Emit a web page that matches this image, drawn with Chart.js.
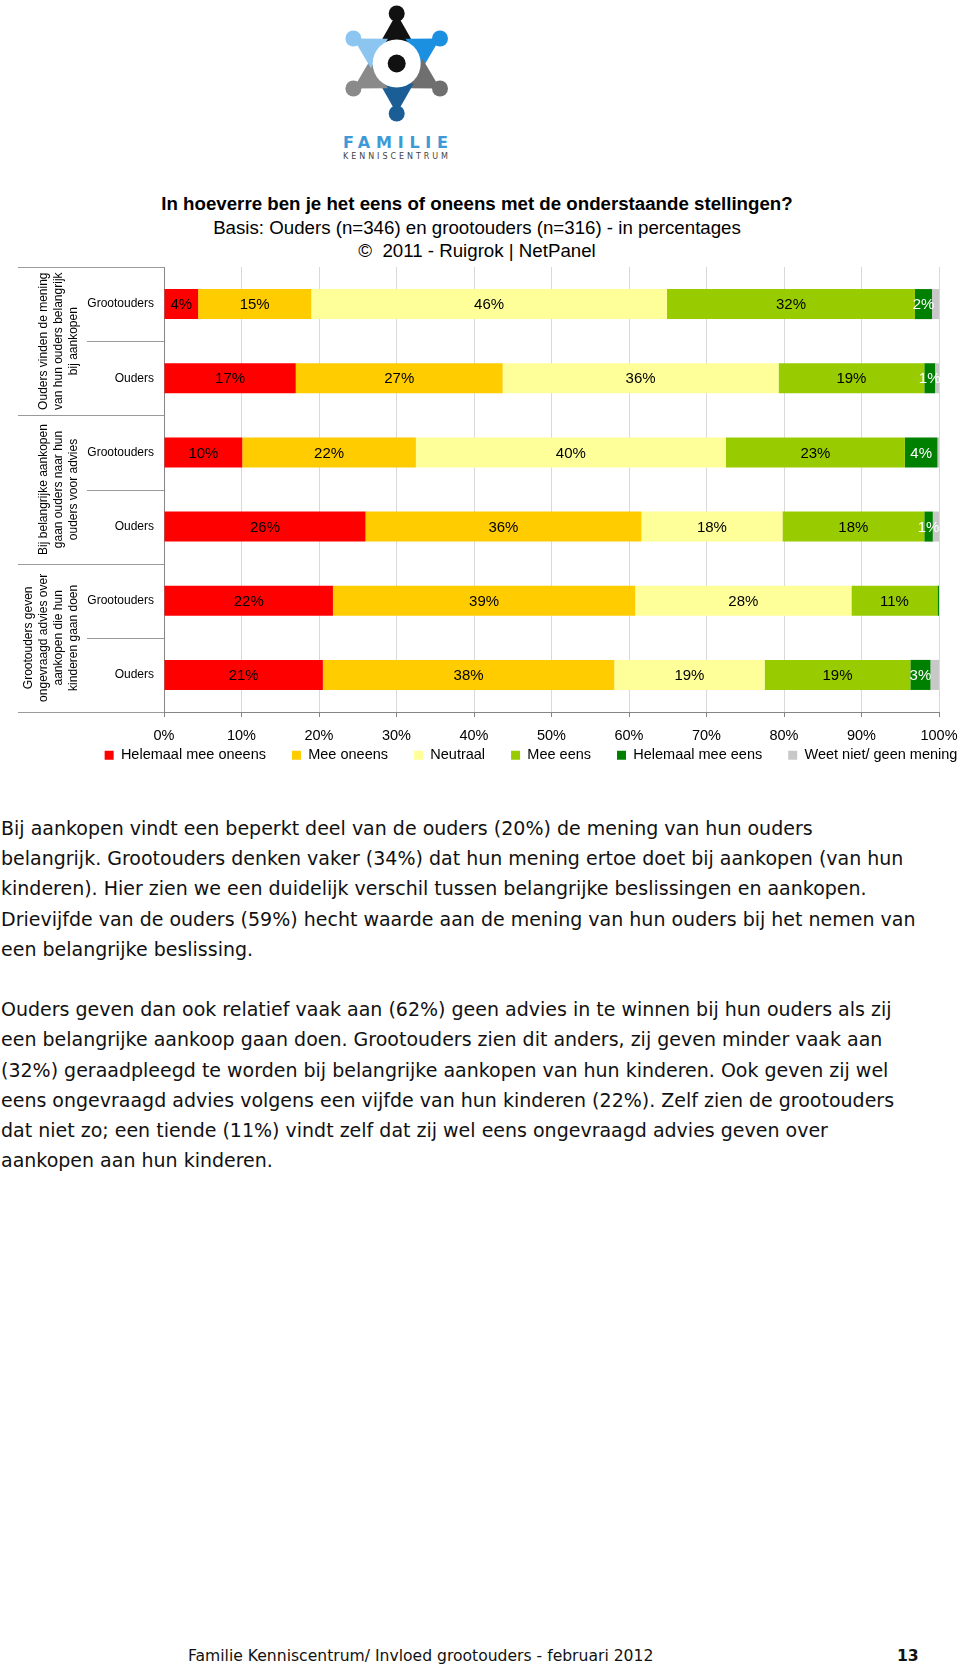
<!DOCTYPE html>
<html>
<head>
    <title>Familie Kenniscentrum - Invloed grootouders</title>
    <script src="https://cdn.jsdelivr.net/npm/chart.js"></script>
    <style>
        html, body {
            margin: 0;
            padding: 0;
            background: #fff;
            overflow: hidden;
        }
        body {
            width: 960px;
            height: 1668px;
            position: relative;
            font-family: "Liberation Sans", Arial, sans-serif;
            color: #000;
        }
        .kop {
            position: absolute;
            left: 0;
            width: 954px;
            text-align: center;
            line-height: 22px;
            font-size: 18.7px;
        }
        #chartBox {
            position: absolute;
            left: 0;
            top: 258px;
        }
        .tekst {
            position: absolute;
            left: 1px;
            top: 813px;
            font-family: "DejaVu Sans", sans-serif;
            font-size: 19px;
            line-height: 30.2px;
            white-space: nowrap;
            color: #111;
        }
        .voet {
            position: absolute;
            top: 1646px;
            font-family: "DejaVu Sans", sans-serif;
            font-size: 15.6px;
            line-height: 20px;
            white-space: nowrap;
            color: #111;
        }
    </style>
</head>
<body>
    <!-- logo -->
    <svg id="logo" width="960" height="165" style="position:absolute;left:0;top:0">
        <polygon points="396.7,13.5 379.7,43.5 413.7,43.5" fill="#111"/>
        <polygon points="440,38.5 422.5,68.2 405.5,38.8" fill="#1b8fe0"/>
        <polygon points="440,88.5 405.5,88.2 422.5,58.8" fill="#6f6f6f"/>
        <polygon points="396.7,113.5 379.7,83.5 413.7,83.5" fill="#1b5e96"/>
        <polygon points="353.4,88.5 370.9,58.8 387.9,88.2" fill="#8a8a8a"/>
        <polygon points="353.4,38.5 387.9,38.8 370.9,68.2" fill="#8cc5f0"/>
        <circle cx="396.7" cy="63.5" r="24" fill="#fff"/>
        <circle cx="396.7" cy="63.5" r="9" fill="#111"/>
        <circle cx="396.7" cy="13.5" r="8" fill="#111"/>
        <circle cx="440" cy="38.5" r="8" fill="#1b8fe0"/>
        <circle cx="440" cy="88.5" r="8" fill="#6f6f6f"/>
        <circle cx="396.7" cy="113.5" r="8" fill="#1b5e96"/>
        <circle cx="353.4" cy="88.5" r="8" fill="#8a8a8a"/>
        <circle cx="353.4" cy="38.5" r="8" fill="#8cc5f0"/>
        <text x="343" y="148" font-family="DejaVu Sans, sans-serif" font-weight="bold" font-size="16" fill="#3d9ad6" textLength="105" lengthAdjust="spacing">FAMILIE</text>
        <text x="343" y="159" font-family="DejaVu Sans, sans-serif" font-size="8" fill="#444" textLength="105" lengthAdjust="spacing">KENNISCENTRUM</text>
    </svg>

    <div class="kop" style="top:193px;font-weight:bold">In hoeverre ben je het eens of oneens met de onderstaande stellingen?</div>
    <div class="kop" style="top:217px">Basis: Ouders (n=346) en grootouders (n=316) - in percentages</div>
    <div class="kop" style="top:240px">&copy;&nbsp; 2011 - Ruigrok | NetPanel</div>

    <div id="chartBox"><canvas id="stellingenChart" width="1000" height="536"></canvas></div>

    <div class="tekst">Bij aankopen vindt een beperkt deel van de ouders (20%) de mening van hun ouders<br>belangrijk. Grootouders denken vaker (34%) dat hun mening ertoe doet bij aankopen (van hun<br>kinderen). Hier zien we een duidelijk verschil tussen belangrijke beslissingen en aankopen.<br>Drievijfde van de ouders (59%) hecht waarde aan de mening van hun ouders bij het nemen van<br>een belangrijke beslissing.<br><br>Ouders geven dan ook relatief vaak aan (62%) geen advies in te winnen bij hun ouders als zij<br>een belangrijke aankoop gaan doen. Grootouders zien dit anders, zij geven minder vaak aan<br>(32%) geraadpleegd te worden bij belangrijke aankopen van hun kinderen. Ook geven zij wel<br>eens ongevraagd advies volgens een vijfde van hun kinderen (22%). Zelf zien de grootouders<br>dat niet zo; een tiende (11%) vindt zelf dat zij wel eens ongevraagd advies geven over<br>aankopen aan hun kinderen.</div>

    <div class="voet" style="left:188px">Familie Kenniscentrum/ Invloed grootouders - februari 2012</div>
    <div class="voet" style="left:897px;font-weight:bold">13</div>

    <script type="text/javascript">
        // rijen (van boven naar onder)
        var rijLabels = ['Grootouders', 'Ouders', 'Grootouders', 'Ouders', 'Grootouders', 'Ouders'];
        var groepLabels = [
            ['Ouders vinden de mening', 'van hun ouders belangrijk', 'bij aankopen'],
            ['Bij belangrijke aankopen', 'gaan ouders naar hun', 'ouders voor advies'],
            ['Grootouders geven', 'ongevraagd advies over', 'aankopen die hun', 'kinderen gaan doen']
        ];

        var reeksNamen = ['Helemaal mee oneens', 'Mee oneens', 'Neutraal', 'Mee eens', 'Helemaal mee eens', 'Weet niet/ geen mening'];
        var reeksKleuren = ['#ff0000', '#ffcc00', '#ffff99', '#99cc00', '#008000', '#c8c8c8'];

        // percentages per rij
        var helemaalOneens = [4.4, 17.0, 10.1, 26.0, 21.8, 20.5];
        var meeOneens      = [14.6, 26.7, 22.4, 35.6, 39.0, 37.6];
        var neutraal       = [45.9, 35.6, 40.0, 18.2, 27.9, 19.4];
        var meeEens        = [32.0, 18.8, 23.1, 18.3, 11.1, 18.8];
        var helemaalEens   = [2.2, 1.4, 4.2, 1.1, 0.2, 2.6];
        var weetNiet       = [0.9, 0.5, 0.2, 0.8, 0.0, 1.1];

        var asMin = 0, asMax = 100, asStap = 10;

        var reeksen = [helemaalOneens, meeOneens, neutraal, meeEens, helemaalEens, weetNiet];

        Chart.defaults.font.family = '"Liberation Sans", Arial, sans-serif';
        Chart.defaults.color = '#000';

        // lijnen en groepnamen links van de grafiek
        var groepPlugin = {
            id: 'groepen',
            afterDraw: function(chart) {
                var ctx = chart.ctx;
                var area = chart.chartArea;
                var yas = chart.scales.y;
                var band = yas.getPixelForValue(1) - yas.getPixelForValue(0);
                ctx.save();
                ctx.strokeStyle = '#9a9a9a';
                ctx.lineWidth = 1;
                for (var k = 0; k <= rijLabels.length; k++) {
                    var yy = Math.round(area.top + k * band) + 0.5;
                    ctx.beginPath();
                    ctx.moveTo(k % 2 === 0 ? 18 : 87, yy);
                    ctx.lineTo(area.left, yy);
                    ctx.stroke();
                }
                ctx.fillStyle = '#000';
                ctx.font = '12px "Liberation Sans", Arial, sans-serif';
                ctx.textAlign = 'center';
                ctx.textBaseline = 'middle';
                groepLabels.forEach(function(regels, g) {
                    var midden = (yas.getPixelForValue(2 * g) + yas.getPixelForValue(2 * g + 1)) / 2;
                    ctx.save();
                    ctx.translate(0, midden);
                    ctx.rotate(-Math.PI / 2);
                    regels.forEach(function(r, i) {
                        ctx.fillText(r, 0, 74 - (regels.length - 1 - i) * 15);
                    });
                    ctx.restore();
                });
                ctx.restore();
            }
        };

        // percentages in de balken
        var labelPlugin = {
            id: 'waarden',
            afterDatasetsDraw: function(chart) {
                var ctx = chart.ctx;
                ctx.save();
                ctx.font = '15px "Liberation Sans", Arial, sans-serif';
                ctx.textAlign = 'center';
                ctx.textBaseline = 'middle';
                chart.data.datasets.forEach(function(ds, d) {
                    if (d > 4) return;
                    var meta = chart.getDatasetMeta(d);
                    meta.data.forEach(function(bar, i) {
                        var v = Math.round(ds.data[i]);
                        if (v < 1) return;
                        ctx.fillStyle = d === 4 ? '#ffffff' : '#000000';
                        ctx.fillText(v + '%', (bar.x + bar.base) / 2, bar.y + 1);
                    });
                });
                ctx.restore();
            }
        };

        // legenda dichter onder de as-labels zetten
        var legendaPlugin = {
            id: 'legendaOmhoog',
            afterLayout: function(chart) {
                chart.legend.top -= 21;
                chart.legend.bottom -= 21;
            }
        };

        var stellingenChart = new Chart(document.getElementById('stellingenChart').getContext('2d'), {
            type: 'bar',
            data: {
                labels: rijLabels,
                datasets: reeksen.map(function(r, i) {
                    return {
                        label: reeksNamen[i],
                        data: r,
                        backgroundColor: reeksKleuren[i],
                        borderWidth: 0,
                        barPercentage: 0.405,
                        categoryPercentage: 1
                    };
                })
            },
            options: {
                indexAxis: 'y',
                responsive: false,
                animation: false,
                devicePixelRatio: 1,
                layout: {
                    padding: { left: 62, right: 0, top: 9, bottom: 0.5 }
                },
                plugins: {
                    tooltip: { enabled: false },
                    legend: {
                        position: 'bottom',
                        align: 'center',
                        labels: {
                            boxWidth: 9,
                            boxHeight: 9,
                            padding: 26,
                            color: '#000',
                            font: { size: 14.5 }
                        }
                    }
                },
                scales: {
                    x: {
                        stacked: true,
                        min: asMin,
                        max: asMax,
                        grid: {
                            color: '#d9d9d9',
                            tickColor: '#868686',
                            tickLength: 5
                        },
                        border: { color: '#868686' },
                        ticks: {
                            stepSize: asStap,
                            padding: 10,
                            font: { size: 14.5 },
                            callback: function(v) { return v + '%'; }
                        },
                        afterFit: function(s) { s.height = 31; }
                    },
                    y: {
                        stacked: true,
                        grid: { display: false, drawTicks: false },
                        border: { display: true, color: '#868686' },
                        ticks: { padding: 10, font: { size: 12 } },
                        afterFit: function(s) {
                            s.width = 102;
                            s.paddingTop = 0;
                            s.paddingBottom = 0;
                        }
                    },
                    rechts: {
                        type: 'linear',
                        axis: 'y',
                        position: 'right',
                        grid: { display: false },
                        border: { display: false },
                        ticks: { display: false },
                        afterFit: function(s) {
                            s.width = 61;
                            s.paddingTop = 0;
                            s.paddingBottom = 0;
                        }
                    }
                }
            },
            plugins: [groepPlugin, labelPlugin, legendaPlugin]
        });
    </script>
</body>
</html>
